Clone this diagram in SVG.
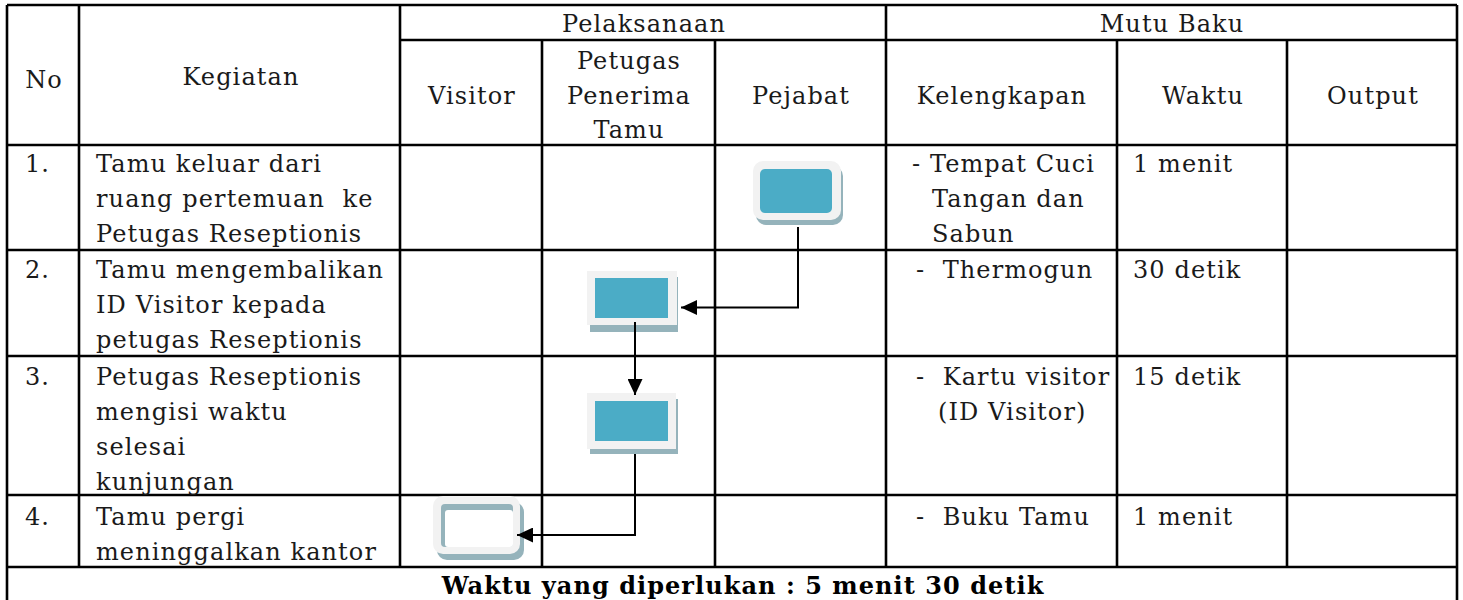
<svg xmlns="http://www.w3.org/2000/svg" width="1463" height="600" viewBox="0 0 1463 600">
<defs>
<style>
.t{font-family:"DejaVu Serif","Liberation Serif",serif;font-size:24px;letter-spacing:1.1px;fill:#1a1a1a}
.c{text-anchor:middle}
.b{font-weight:bold;fill:#000;letter-spacing:1.05px}
.g{stroke:#000;stroke-width:2.6;fill:none}
.e{stroke:#000;stroke-width:2;fill:none}
.lt{fill:#f2f2f2}
.sh{fill:#95b3bb}
.tl{fill:#4bacc6}
</style>
<marker id="arr" viewBox="0 0 16 15" refX="16" refY="7.5" markerWidth="16" markerHeight="15" markerUnits="userSpaceOnUse" orient="auto">
<path d="M0,0 L16,7.5 L0,15 Z" fill="#000"/>
</marker>
</defs>
<rect width="1463" height="600" fill="#fff"/>
<g id="grid" class="g">
<line x1="7" y1="5" x2="1457" y2="5"/>
<line x1="400" y1="40" x2="1457" y2="40"/>
<line x1="7" y1="145" x2="1457" y2="145"/>
<line x1="7" y1="250" x2="1457" y2="250"/>
<line x1="7" y1="356" x2="1457" y2="356"/>
<line x1="7" y1="495" x2="1457" y2="495"/>
<line x1="7" y1="567" x2="1457" y2="567"/>
<line x1="7" y1="5" x2="7" y2="605"/>
<line x1="1457" y1="5" x2="1457" y2="605"/>
<line x1="79" y1="5" x2="79" y2="567"/>
<line x1="400" y1="5" x2="400" y2="567"/>
<line x1="886" y1="5" x2="886" y2="567"/>
<line x1="542" y1="40" x2="542" y2="567"/>
<line x1="715" y1="40" x2="715" y2="567"/>
<line x1="1117" y1="40" x2="1117" y2="567"/>
<line x1="1287" y1="40" x2="1287" y2="567"/>
</g>
<g id="header">
<text class="t c" x="644" y="32">Pelaksanaan</text>
<text class="t c" x="1172" y="32">Mutu Baku</text>
<text class="t c" x="44" y="88">No</text>
<text class="t c" x="241" y="85">Kegiatan</text>
<text class="t c" x="472" y="104">Visitor</text>
<text class="t c" x="629" y="69">Petugas</text>
<text class="t c" x="629" y="104">Penerima</text>
<text class="t c" x="629" y="138">Tamu</text>
<text class="t c" x="801" y="104">Pejabat</text>
<text class="t c" x="1002" y="104">Kelengkapan</text>
<text class="t c" x="1203" y="104">Waktu</text>
<text class="t c" x="1373" y="104">Output</text>
</g>
<g id="rows">
<text class="t" x="25" y="172">1.</text>
<text class="t" x="96" y="172">Tamu keluar dari</text>
<text class="t" x="96" y="207" xml:space="preserve">ruang pertemuan  ke</text>
<text class="t" x="96" y="242">Petugas Reseptionis</text>
<text class="t" x="912" y="172">- Tempat Cuci</text>
<text class="t" x="932" y="207">Tangan dan</text>
<text class="t" x="932" y="242">Sabun</text>
<text class="t" x="1133" y="172">1 menit</text>

<text class="t" x="25" y="278">2.</text>
<text class="t" x="96" y="278">Tamu mengembalikan</text>
<text class="t" x="96" y="313">ID Visitor kepada</text>
<text class="t" x="96" y="348">petugas Reseptionis</text>
<text class="t" x="916" y="278" xml:space="preserve">-  Thermogun</text>
<text class="t" x="1133" y="278">30 detik</text>

<text class="t" x="25" y="385">3.</text>
<text class="t" x="96" y="385">Petugas Reseptionis</text>
<text class="t" x="96" y="420">mengisi waktu</text>
<text class="t" x="96" y="455">selesai</text>
<text class="t" x="96" y="490">kunjungan</text>
<text class="t" x="916" y="385" xml:space="preserve">-  Kartu visitor</text>
<text class="t" x="938" y="420">(ID Visitor)</text>
<text class="t" x="1133" y="385">15 detik</text>

<text class="t" x="25" y="525">4.</text>
<text class="t" x="96" y="525">Tamu pergi</text>
<text class="t" x="96" y="560">meninggalkan kantor</text>
<text class="t" x="916" y="525" xml:space="preserve">-  Buku Tamu</text>
<text class="t" x="1133" y="525">1 menit</text>

<text class="t c b" x="743" y="594">Waktu yang diperlukan : 5 menit 30 detik</text>
</g>
<g id="n1">
<rect class="sh" x="756" y="166" width="87" height="59" rx="10"/>
<rect class="lt" x="753" y="161" width="88" height="59" rx="10"/>
<rect class="tl" x="760" y="169" width="72" height="44" rx="5"/>
</g>
<g id="n2">
<rect class="sh" x="590" y="277" width="88" height="55"/>
<rect class="lt" x="587" y="271" width="90" height="54"/>
<rect class="tl" x="595" y="278" width="73" height="40"/>
</g>
<g id="n3">
<rect class="sh" x="590" y="399" width="88" height="55"/>
<rect class="lt" x="587" y="393" width="89" height="56"/>
<rect class="tl" x="595" y="401" width="73" height="40"/>
</g>
<g id="n4">
<rect class="sh" x="437" y="502" width="87" height="58" rx="10"/>
<rect class="lt" x="433" y="496" width="87" height="58" rx="10"/>
<rect class="sh" x="441" y="504" width="72" height="43" rx="4"/>
<rect fill="#fff" x="445" y="510" width="68" height="37" rx="3"/>
</g>
<g id="connectors" class="e">
<polyline points="798,227 798,307.5 681,307.5" marker-end="url(#arr)"/>
<polyline points="635,322 635,395" marker-end="url(#arr)"/>
<polyline points="635,454 635,535 517,535" marker-end="url(#arr)"/>
</g>
</svg>
